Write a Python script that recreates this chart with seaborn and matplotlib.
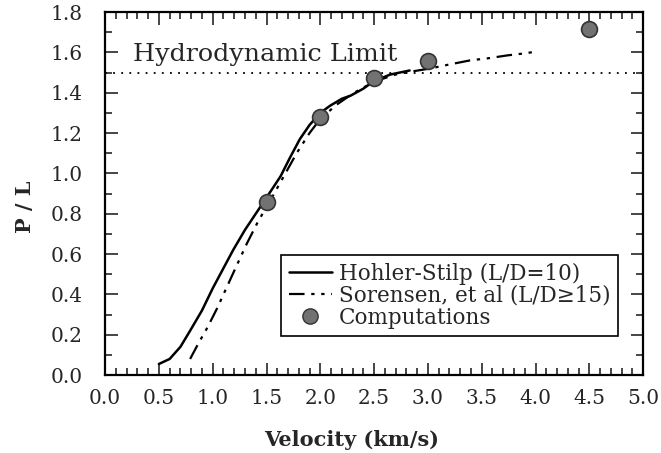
import matplotlib
matplotlib.use("Agg")
import matplotlib.pyplot as plt
import seaborn as sns
import numpy as np
import pandas as pd
from matplotlib.lines import Line2D
from matplotlib.ticker import MultipleLocator

# Data
hs_v = [0.50, 0.60, 0.70, 0.79, 0.90, 1.00, 1.10, 1.19, 1.30, 1.40, 1.50, 1.63, 1.72, 1.81, 1.90, 2.00, 2.09, 2.20, 2.28, 2.40, 2.49, 2.65, 2.83]
hs_pl = [0.055, 0.08, 0.14, 0.22, 0.32, 0.43, 0.53, 0.62, 0.72, 0.80, 0.88, 0.985, 1.08, 1.17, 1.24, 1.30, 1.335, 1.37, 1.385, 1.42, 1.455, 1.49, 1.51]

so_v = [0.79, 0.87, 0.95, 1.04, 1.13, 1.22, 1.32, 1.42, 1.55, 1.66, 1.78, 1.90, 2.00, 2.15, 2.30, 2.50, 2.70, 2.85, 3.02, 3.20, 3.39, 3.55, 3.74, 3.90, 4.02]
so_pl = [0.08, 0.16, 0.235, 0.33, 0.435, 0.54, 0.655, 0.76, 0.88, 0.985, 1.10, 1.20, 1.27, 1.34, 1.395, 1.455, 1.49, 1.505, 1.52, 1.54, 1.56, 1.57, 1.585, 1.595, 1.605]

comp_v = [1.5, 2.0, 2.5, 3.0, 4.5]
comp_pl = [0.86, 1.28, 1.475, 1.555, 1.715]

hydro_limit = 1.5

x_ticks = [0.0, 0.5, 1.0, 1.5, 2.0, 2.5, 3.0, 3.5, 4.0, 4.5, 5.0]
y_ticks = [0.0, 0.2, 0.4, 0.6, 0.8, 1.0, 1.2, 1.4, 1.6, 1.8]

sns.set_theme(style="ticks")
plt.rcParams['font.family'] = ['DejaVu Serif', 'DejaVu Sans']

fig = plt.figure(figsize=(6.61, 4.53), dpi=100)
ax = fig.add_axes([0.159, 0.172, 0.814, 0.8015])

df_hs = pd.DataFrame({"v": hs_v, "pl": hs_pl})
df_so = pd.DataFrame({"v": so_v, "pl": so_pl})
df_c = pd.DataFrame({"v": comp_v, "pl": comp_pl})

ax.axhline(hydro_limit, color="black", lw=1.3, linestyle=(0, (1, 3.5)), zorder=1)
sns.lineplot(data=df_hs, x="v", y="pl", ax=ax, color="black", lw=1.8, sort=False, zorder=2)
sns.lineplot(data=df_so, x="v", y="pl", ax=ax, color="black", lw=1.6, sort=False,
             linestyle=(0, (7, 3, 1.5, 3, 1.5, 3)), zorder=2)
sns.scatterplot(data=df_c, x="v", y="pl", ax=ax, s=130, color="#727272",
                edgecolor="#333333", linewidth=1.2, zorder=3)

ax.text(0.26, 1.59, "Hydrodynamic Limit", fontsize=18.3, ha="left", va="center")

ax.set_xlim(0, 5)
ax.set_ylim(0, 1.8)
ax.set_xticks(x_ticks)
ax.set_xticklabels([f"{t:.1f}" for t in x_ticks])
ax.set_yticks(y_ticks)
ax.set_yticklabels([f"{t:.1f}" for t in y_ticks])
ax.xaxis.set_minor_locator(MultipleLocator(0.1))
ax.yaxis.set_minor_locator(MultipleLocator(0.1))
ax.tick_params(which="both", direction="in", top=True, right=True, width=1.2, labelsize=14.5)
ax.tick_params(axis="x", which="major", pad=10)
ax.tick_params(axis="y", which="major", pad=16)
ax.tick_params(which="major", length=9)
ax.tick_params(which="minor", length=5)
for s in ax.spines.values():
    s.set_linewidth(1.6)
    s.set_color("black")

ax.set_xlabel("Velocity (km/s)", fontsize=15, fontweight="bold")
ax.set_ylabel("P / L", fontsize=15, fontweight="bold")
ax.xaxis.set_label_coords(0.459, -0.179)
ax.xaxis.label.set_va("center")
ax.yaxis.set_label_coords(-0.148, 0.463)
ax.yaxis.label.set_va("center")

handles = [
    Line2D([], [], color="black", lw=1.8),
    Line2D([], [], color="black", lw=1.6, linestyle=(0, (7, 3, 1.5, 3, 1.5, 3))),
    Line2D([], [], marker="o", ls="none", markersize=11, markerfacecolor="#727272", markeredgecolor="#333333"),
]
labels = ["Hohler-Stilp (L/D=10)", "Sorensen, et al (L/D\u226515)", "Computations"]
leg = ax.legend(handles, labels, loc="lower left", bbox_to_anchor=(0.327, 0.107),
                fontsize=15.5, frameon=True, fancybox=False, edgecolor="black",
                framealpha=1, borderpad=0.35, labelspacing=0.0, handlelength=2.0,
                handletextpad=0.35, borderaxespad=0)
leg.get_frame().set_linewidth(1.2)

fig.savefig("out.png", dpi=100)
